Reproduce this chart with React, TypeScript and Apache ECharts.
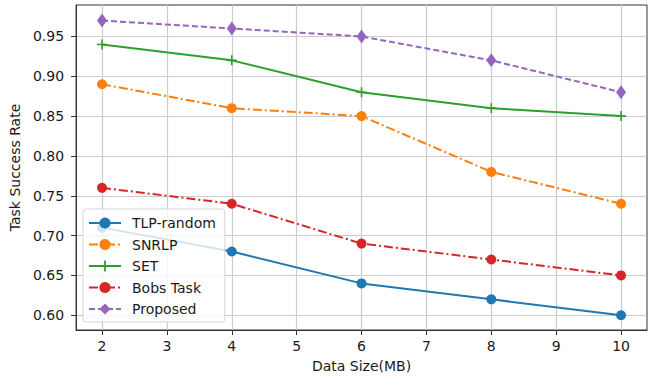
import React, { useEffect, useRef } from "react";
import * as echarts from "echarts";

const dataSizes = [2, 4, 6, 8, 10];
const xTicks = [2, 3, 4, 5, 6, 7, 8, 9, 10];
const yTicks = [0.6, 0.65, 0.7, 0.75, 0.8, 0.85, 0.9, 0.95];
const tlpRandom = [0.71, 0.68, 0.64, 0.62, 0.6];
const snrlp = [0.89, 0.86, 0.85, 0.78, 0.74];
const setSeries = [0.94, 0.92, 0.88, 0.86, 0.85];
const bobsTask = [0.76, 0.74, 0.69, 0.67, 0.65];
const proposed = [0.97, 0.96, 0.95, 0.92, 0.88];

const FONT = "DejaVu Sans";
const TEXT = "#1a1a1a";
const PLUS = "path://M4.2,0H5.8V4.2H10V5.8H5.8V10H4.2V5.8H0V4.2H4.2Z";

function pairs(vals: number[]) {
  return dataSizes.map((x, i) => [x, vals[i]]);
}

export default function App() {
  const ref = useRef<HTMLDivElement>(null);
  useEffect(() => {
    if (!ref.current) return;
    const chart = echarts.init(ref.current, null, { renderer: "svg" });
    const mk = (
      name: string,
      vals: number[],
      color: string,
      symbol: string,
      symbolSize: any,
      type: any
    ) => ({
      name,
      type: "line",
      data: pairs(vals),
      symbol,
      symbolSize,
      showSymbol: true,
      color,
      itemStyle: { color, opacity: 1 },
      lineStyle: { color, width: 2, type },
      emphasis: { disabled: true },
      z: 3,
    });
    chart.setOption({
      animation: false,
      grid: {
        left: 76,
        right: 6,
        top: 5,
        bottom: 48,
        show: true,
        borderColor: "#333",
        borderWidth: 1,
        backgroundColor: "transparent",
      },
      xAxis: {
        type: "value",
        min: 1.6,
        max: 10.4,
        name: "Data Size(MB)",
        nameLocation: "middle",
        nameGap: 29,
        nameTextStyle: { fontFamily: FONT, fontSize: 14, color: TEXT },
        axisLine: { show: true, onZero: false, lineStyle: { color: "#333", width: 1 } },
        axisTick: {
          show: true,
          length: 5,
          customValues: xTicks,
          lineStyle: { color: "#333", width: 1 },
        },
        axisLabel: {
          customValues: xTicks,
          margin: 9,
          fontFamily: FONT,
          fontSize: 14,
          color: TEXT,
        },
        splitLine: { show: true, lineStyle: { color: "#cccccc", width: 1.2 } },
      },
      yAxis: {
        type: "value",
        min: 0.5815,
        max: 0.9895,
        name: "Task Success Rate",
        nameLocation: "middle",
        nameGap: 49,
        nameTextStyle: { fontFamily: FONT, fontSize: 14, color: TEXT },
        axisLine: { show: true, onZero: false, lineStyle: { color: "#333", width: 1 } },
        axisTick: {
          show: true,
          length: 5,
          customValues: yTicks,
          lineStyle: { color: "#333", width: 1 },
        },
        axisLabel: {
          customValues: yTicks,
          margin: 12,
          fontFamily: FONT,
          fontSize: 14,
          color: TEXT,
          formatter: (v: number) => v.toFixed(2),
        },
        splitLine: { show: true, lineStyle: { color: "#cccccc", width: 1.2 } },
      },
      legend: {
        orient: "vertical",
        left: 83,
        top: 209,
        padding: [7, 9, 6, 5],
        itemWidth: 32,
        itemHeight: 14,
        itemGap: 7.5,
        backgroundColor: "rgba(255,255,255,0.8)",
        borderColor: "#d5d5d5",
        borderWidth: 1,
        borderRadius: 3,
        textStyle: { fontFamily: FONT, fontSize: 14, color: TEXT, padding: [0, 0, 0, 6] },
        data: ["TLP-random", "SNRLP", "SET", "Bobs Task", "Proposed"],
        z: 10,
      },
      series: [
        mk("TLP-random", tlpRandom, "#1f77b4", "circle", 10, "solid"),
        mk("SNRLP", snrlp, "#ff7f0e", "circle", 10, [9, 3, 2, 3]),
        mk("SET", setSeries, "#2ca02c", PLUS, 10, "solid"),
        mk("Bobs Task", bobsTask, "#d62728", "circle", 10, [9, 3, 2, 3]),
        mk("Proposed", proposed, "#9467bd", "diamond", [10, 14], [6, 3]),
      ],
    });
    return () => chart.dispose();
  }, []);
  return <div ref={ref} style={{ width: 653, height: 378, position: "absolute", left: 0, top: 0 }} />;
}
